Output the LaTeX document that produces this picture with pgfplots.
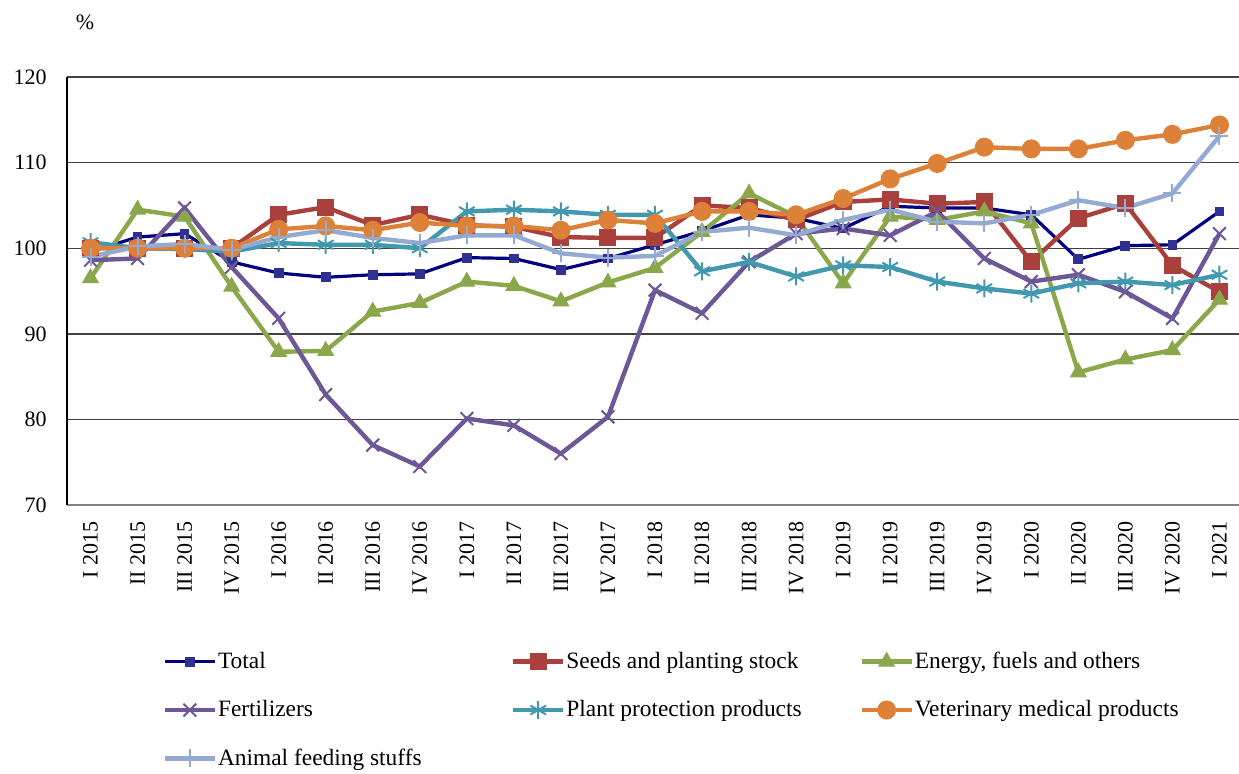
\documentclass[border=0pt]{standalone}
\usepackage{fontspec}
\setmainfont{Liberation Serif}
\usepackage{pgfplots}
\pgfplotsset{compat=1.18}
\definecolor{cTotal}{HTML}{000080}
\definecolor{cTotalM}{HTML}{2E3192}
\definecolor{cSeeds}{HTML}{A9403B}
\definecolor{cEnergy}{HTML}{8AA84B}
\definecolor{cFert}{HTML}{6E5796}
\definecolor{cPlant}{HTML}{4198AF}
\definecolor{cVet}{HTML}{DD8138}
\definecolor{cAnim}{HTML}{94AAD3}
\newcommand{\lf}{\fontsize{11}{13}\selectfont}
\newcommand{\lgf}{\fontsize{11.7}{13}\selectfont}
\begin{document}
\begin{tikzpicture}
\begin{axis}[
  at={(0,0)}, anchor=south west,
  scale only axis, width=588pt, height=214pt,
  xmin=-0.5, xmax=24.5, ymin=70, ymax=120,
  ytick={70,80,...,120},
  xtick={0,...,24},
  xticklabels={I 2015,II 2015,III 2015,IV 2015,I 2016,II 2016,III 2016,IV 2016,I 2017,II 2017,III 2017,IV 2017,I 2018,II 2018,III 2018,IV 2018,I 2019,II 2019,III 2019,IV 2019,I 2020,II 2020,III 2020,IV 2020,I 2021},
  /pgf/number format/assume math mode=true,
  tick label style={font=\lf},
  xticklabel style={rotate=90, anchor=east, inner sep=0pt},
  xticklabel shift=8pt,
  yticklabel style={inner sep=0pt, xshift=-10pt},
  xtick style={draw=none},
  ytick style={draw=none},
  extra x ticks={-0.5,0.5,...,24.5},
  extra x tick labels={},
  extra x tick style={grid=none, tick style={draw=gray, line width=0.8pt}, major tick length=3pt, tick align=outside},
  axis lines*=left,
  axis line style={-},
  x axis line style={draw=gray, line width=0.8pt},
  y axis line style={draw=black, line width=0.7pt},
  ymajorgrids,
  grid style={draw=black!75, line width=0.7pt},
  ylabel={\%},
  ylabel style={rotate=-90, at={(rel axis cs:0,1)}, anchor=center, xshift=9pt, yshift=27.5pt, font=\lf},
  legend style={draw=none, fill=none, at={(rel axis cs:0.081,-0.333)}, anchor=north west, font=\lgf, row sep=10.5pt, inner sep=0pt, cells={anchor=west, inner xsep=1.2pt}},
  legend columns=3,
  legend image code/.code={\draw[mark repeat=2,mark phase=2,#1] plot coordinates {(0pt,0pt) (12.5pt,0pt) (25pt,0pt)};},
]
\addplot[cTotal, line width=1.6pt, mark=square*, mark size=2.2pt, mark options={fill=cTotalM, draw=cTotalM, line width=0.5pt}] coordinates {
(0,99.6)(1,101.3)(2,101.7)(3,98.4)(4,97.1)(5,96.6)(6,96.9)(7,97.0)(8,98.9)(9,98.8)(10,97.5)(11,98.8)(12,100.4)(13,102.0)(14,103.9)(15,103.5)(16,102.3)(17,104.9)(18,104.7)(19,104.7)(20,103.9)(21,98.7)(22,100.3)(23,100.4)(24,104.3)};
\addlegendentry{\makebox[143pt][l]{\hspace*{-1.5pt}Total}}
\addplot[cSeeds, line width=2.2pt, mark=square*, mark size=4pt, mark options={fill=cSeeds, line width=0.5pt}] coordinates {
(0,100)(1,100)(2,100)(3,100)(4,103.9)(5,104.8)(6,102.7)(7,103.9)(8,102.7)(9,102.5)(10,101.3)(11,101.2)(12,101.2)(13,105.0)(14,104.7)(15,103.3)(16,105.4)(17,105.7)(18,105.2)(19,105.4)(20,98.4)(21,103.5)(22,105.2)(23,98.0)(24,94.9)};
\addlegendentry{\makebox[143pt][l]{\hspace*{-1.5pt}Seeds and planting stock}}
\addplot[cEnergy, line width=2.2pt, mark=triangle*, mark size=4.5pt, mark options={fill=cEnergy, line width=0.5pt}] coordinates {
(0,96.5)(1,104.5)(2,103.7)(3,95.5)(4,87.9)(5,88.0)(6,92.6)(7,93.6)(8,96.1)(9,95.6)(10,93.8)(11,96.0)(12,97.7)(13,101.9)(14,106.4)(15,103.7)(16,95.9)(17,103.7)(18,103.3)(19,104.3)(20,102.9)(21,85.5)(22,87.0)(23,88.1)(24,94.0)};
\addlegendentry{\makebox[143pt][l]{\hspace*{-1.5pt}Energy, fuels and others}}
\addplot[cFert, line width=2.2pt, mark=x, mark size=4.5pt, mark options={line width=1pt}] coordinates {
(0,98.6)(1,98.8)(2,104.7)(3,97.8)(4,91.8)(5,82.9)(6,77.0)(7,74.5)(8,80.1)(9,79.3)(10,76.0)(11,80.3)(12,95.1)(13,92.4)(14,98.4)(15,101.7)(16,102.3)(17,101.5)(18,104.3)(19,98.8)(20,96.1)(21,96.9)(22,94.9)(23,91.8)(24,101.7)};
\addlegendentry{\makebox[143pt][l]{\hspace*{-1.5pt}Fertilizers}}
\addplot[cPlant, line width=2.2pt, mark=asterisk, mark size=4.5pt, mark options={line width=1pt}] coordinates {
(0,100.7)(1,100.0)(2,99.9)(3,99.6)(4,100.6)(5,100.4)(6,100.4)(7,100.0)(8,104.3)(9,104.5)(10,104.3)(11,103.9)(12,103.9)(13,97.3)(14,98.4)(15,96.7)(16,98.0)(17,97.8)(18,96.1)(19,95.3)(20,94.7)(21,95.9)(22,96.1)(23,95.7)(24,96.9)};
\addlegendentry{\makebox[143pt][l]{\hspace*{-1.5pt}Plant protection products}}
\addplot[cVet, line width=2.2pt, mark=*, mark size=4.5pt, mark options={fill=cVet, line width=0.5pt}] coordinates {
(0,100)(1,100)(2,100)(3,100)(4,102.2)(5,102.6)(6,102.1)(7,103.0)(8,102.6)(9,102.6)(10,102.1)(11,103.3)(12,102.9)(13,104.3)(14,104.3)(15,103.9)(16,105.8)(17,108.1)(18,109.9)(19,111.8)(20,111.6)(21,111.6)(22,112.6)(23,113.3)(24,114.4)};
\addlegendentry{\makebox[143pt][l]{\hspace*{-1.5pt}Veterinary medical products}}
\addplot[cAnim, line width=2.2pt, mark=+, mark size=4.5pt, mark options={line width=1pt}] coordinates {
(0,99.0)(1,100.2)(2,100.5)(3,99.8)(4,101.3)(5,102.1)(6,101.2)(7,100.6)(8,101.5)(9,101.5)(10,99.4)(11,98.9)(12,99.1)(13,101.9)(14,102.4)(15,101.5)(16,103.3)(17,104.5)(18,103.1)(19,102.9)(20,103.9)(21,105.6)(22,104.7)(23,106.4)(24,113.1)};
\addlegendentry{\makebox[143pt][l]{\hspace*{-1.5pt}Animal feeding stuffs}}
\end{axis}
\pgfresetboundingbox
\path[use as bounding box] (-33.5pt,-134pt) rectangle (586pt,252.5pt);
\end{tikzpicture}
\end{document}
